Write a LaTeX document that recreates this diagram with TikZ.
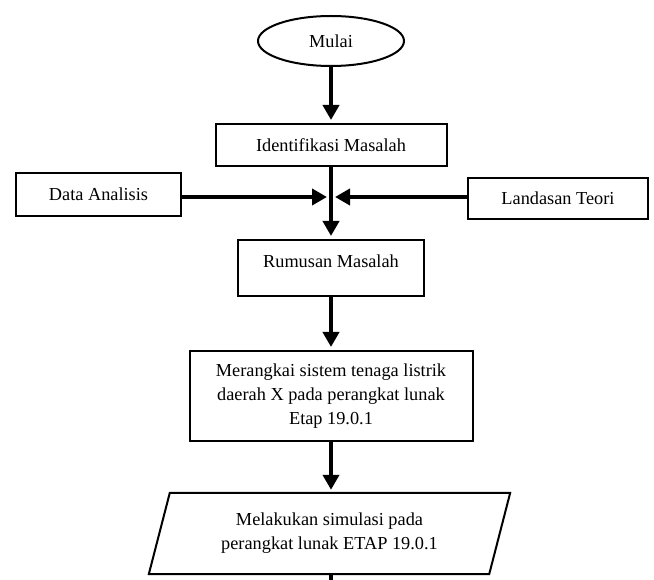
\documentclass[tikz,border=0pt]{standalone}
\usepackage{fontspec}
\setmainfont{Liberation Serif}
\usepackage{tikz}
\usetikzlibrary{arrows.meta,shapes.geometric}
\tikzstyle{kotak}=[rectangle,draw,line width=2pt,align=center,inner sep=0pt]
\tikzstyle{terminal}=[ellipse,draw,line width=2pt,inner sep=0pt]
\tikzstyle{masukan}=[rectangle,align=center,inner sep=0pt]
\tikzstyle{panah}=[line width=4pt,-{Triangle[length=15pt,width=16pt]},shorten >=3pt]

\begin{document}
\begin{tikzpicture}[x=1pt,y=-1pt,font=\fontsize{18.3}{24}\selectfont]
        \useasboundingbox (0,0) rectangle (654,580);
        \node at (331, 41) [terminal,minimum width=146pt,minimum height=50pt] (mulai) {Mulai};
        \node at (331,145) [kotak,minimum width=231pt,minimum height=42pt] (ident) {Identifikasi Masalah};
        \node at (98.5,194.5) [kotak,minimum width=165pt,minimum height=43pt] (data) {Data Analisis};
        \node at (558,198.5) [kotak,minimum width=180pt,minimum height=41pt] (teori) {Landasan Teori};
        \node at (331,268) [kotak,minimum width=186pt,minimum height=56pt,text height=12pt,text depth=12pt] (rumusan) {Rumusan Masalah};
        \node at (331,396) [kotak,minimum width=283pt,minimum height=90pt] (rangkai) {Merangkai sistem tenaga listrik\\daerah X pada perangkat lunak\\Etap 19.0.1};
        \node at (329.5,533.5) [masukan,minimum width=340pt,minimum height=81pt] (simulasi) {Melakukan simulasi pada\\perangkat lunak ETAP 19.0.1};
        % jajaran genjang masukan
        \draw [line width=2pt] ([xshift=10.5pt]simulasi.north west) -- ([xshift=10.5pt]simulasi.north east)
              -- ([xshift=-10.5pt]simulasi.south east) -- ([xshift=-10.5pt]simulasi.south west) -- cycle;
        \coordinate (temu) at (331,197);
        \coordinate (lanjut) at (331,580);
        \draw [panah] (mulai) to (ident);
        \draw [panah] (ident) to (rumusan);
        \draw [panah,shorten >=4pt] (data.east |- temu) to (temu);
        \draw [panah,shorten >=4pt] (teori.west |- temu) to (temu);
        \draw [panah] (rumusan) to (rangkai);
        \draw [panah] (rangkai) to (rangkai |- simulasi.north);
        \draw [line width=4pt] (simulasi.south -| lanjut) to (lanjut);
\end{tikzpicture}
\end{document}
